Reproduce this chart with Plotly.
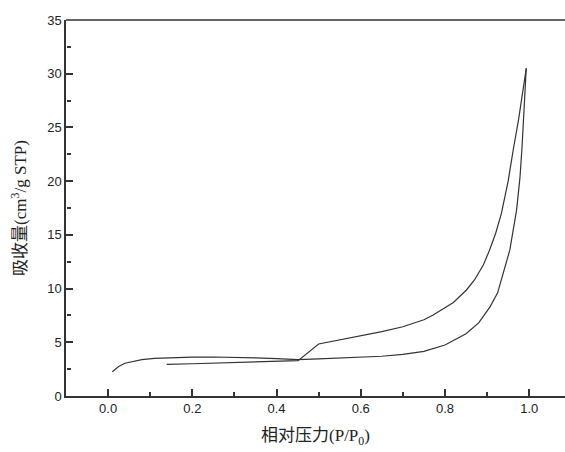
import plotly.graph_objects as go

# Adsorption branch (relative pressure, quantity adsorbed)
ads_x = [0.010, 0.025, 0.040, 0.060, 0.080, 0.110, 0.150, 0.200, 0.250, 0.300, 0.350,
         0.400, 0.451, 0.500, 0.550, 0.600, 0.650, 0.700, 0.750, 0.800, 0.850, 0.880,
         0.907, 0.925, 0.938, 0.954, 0.970, 0.978, 0.983, 0.988, 0.993]
ads_y = [2.26, 2.75, 3.05, 3.25, 3.38, 3.50, 3.58, 3.62, 3.63, 3.62, 3.55,
         3.48, 3.38, 3.45, 3.52, 3.60, 3.70, 3.88, 4.15, 4.75, 5.80, 6.80,
         8.30, 9.60, 11.4, 13.6, 17.3, 20.3, 23.2, 26.6, 30.5]

# Desorption branch
des_x = [0.993, 0.985, 0.975, 0.962, 0.950, 0.934, 0.920, 0.905, 0.891, 0.870, 0.851,
         0.820, 0.800, 0.772, 0.750, 0.700, 0.650, 0.600, 0.550, 0.500, 0.451, 0.400,
         0.350, 0.300, 0.250, 0.200, 0.139]
des_y = [30.5, 28.3, 25.8, 22.9, 20.0, 17.0, 15.1, 13.5, 12.2, 10.8, 9.87,
         8.70, 8.20, 7.54, 7.10, 6.45, 6.00, 5.60, 5.20, 4.84, 3.29, 3.22,
         3.16, 3.10, 3.05, 3.00, 2.95]

x_ticks = [0.0, 0.2, 0.4, 0.6, 0.8, 1.0]
x_minor = [0.1, 0.3, 0.5, 0.7, 0.9]
y_ticks = [0, 5, 10, 15, 20, 25, 30, 35]
y_minor = [2.5, 7.5, 12.5, 17.5, 22.5, 27.5, 32.5]

x_range = [-0.1, 1.085]
y_range = [0, 35]

line_color = "#333333"
fig = go.Figure()
fig.add_trace(go.Scatter(x=ads_x, y=ads_y, mode="lines",
                         line=dict(color=line_color, width=1.2), showlegend=False))
fig.add_trace(go.Scatter(x=des_x, y=des_y, mode="lines",
                         line=dict(color=line_color, width=1.2), showlegend=False))

tick_font = dict(family="Liberation Sans, Arial, sans-serif", size=13, color="#222222")
title_font = dict(family="Liberation Serif, Noto Sans CJK SC, serif", size=17,
                  color="#222222")

fig.update_layout(
    width=565, height=452,
    margin=dict(l=66, r=0, t=20, b=56),
    plot_bgcolor="white", paper_bgcolor="white",
    xaxis=dict(
        range=x_range, tickmode="array", tickvals=x_ticks,
        ticktext=[f"{v:.1f}" for v in x_ticks], ticks="inside", ticklen=7,
        tickwidth=1.5, tickcolor=line_color,
        showline=True, linecolor=line_color, linewidth=1.5,
        showgrid=False, zeroline=False, tickfont=tick_font,
        title=dict(text="相对压力(P/P<sub>0</sub>)", font=title_font, standoff=14),
    ),
    yaxis=dict(
        range=y_range, tickmode="array", tickvals=y_ticks, ticks="inside", ticklen=7,
        tickwidth=1.5, tickcolor=line_color,
        showline=True, linecolor=line_color, linewidth=1.5,
        showgrid=False, zeroline=False, tickfont=tick_font,
        title=dict(text="吸收量(cm<sup>3</sup>/g STP)", font=title_font, standoff=16),
    ),
    # overlay axes carrying the minor ticks (pointing into the plot)
    xaxis2=dict(range=x_range, overlaying="x", side="top", anchor="free", position=0,
                tickmode="array", tickvals=x_minor, showticklabels=False,
                ticks="outside", ticklen=4, tickwidth=1.5, tickcolor=line_color,
                showline=False, showgrid=False, zeroline=False),
    yaxis2=dict(range=y_range, overlaying="y", side="right", anchor="free", position=0,
                tickmode="array", tickvals=y_minor, showticklabels=False,
                ticks="outside", ticklen=4, tickwidth=1.5, tickcolor=line_color,
                showline=False, showgrid=False, zeroline=False),
    shapes=[dict(type="line", xref="paper", yref="paper", x0=0, x1=1, y0=1, y1=1,
                 line=dict(color=line_color, width=1.5))],
)
fig.add_trace(go.Scatter(x=[x_range[0]], y=[y_range[0]], xaxis="x2", yaxis="y2",
                         mode="markers", marker=dict(opacity=0), hoverinfo="skip",
                         showlegend=False))

fig.write_html("out.html")
